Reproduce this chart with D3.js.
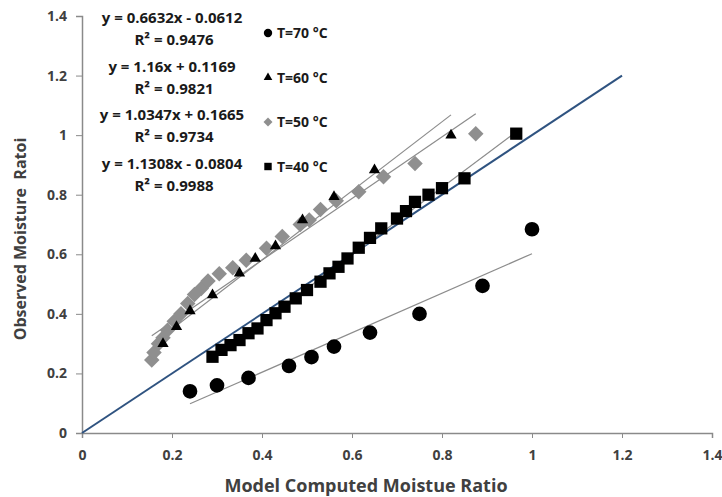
<!DOCTYPE html>
<html>
<head>
<meta charset="utf-8">
<script src="https://cdn.jsdelivr.net/npm/d3@7"></script>
<style>
  body { margin: 0; background: #fff; }
  text { font-family: "Open Sans", "DejaVu Sans", sans-serif; }
</style>
</head>
<body>
<div id="chart"></div>
<script>
// series data
const t70X = [0.24, 0.30, 0.37, 0.46, 0.51, 0.56, 0.64, 0.75, 0.89, 1.0];
const t70Y = [0.14, 0.16, 0.185, 0.225, 0.255, 0.29, 0.337, 0.40, 0.494, 0.684];

const t60X = [0.18, 0.21, 0.24, 0.29, 0.35, 0.385, 0.43, 0.49, 0.56, 0.65, 0.82];
const t60Y = [0.30, 0.357, 0.41, 0.463, 0.536, 0.586, 0.628, 0.715, 0.793, 0.883, 1.0];

const t50X = [0.155, 0.16, 0.17, 0.18, 0.19, 0.205, 0.22, 0.235, 0.25, 0.265, 0.28, 0.305,
  0.335, 0.365, 0.41, 0.445, 0.485, 0.505, 0.53, 0.565, 0.615, 0.67, 0.74, 0.875];
const t50Y = [0.245, 0.27, 0.30, 0.32, 0.345, 0.375, 0.40, 0.435, 0.465, 0.485, 0.51, 0.535,
  0.555, 0.58, 0.62, 0.66, 0.70, 0.715, 0.75, 0.78, 0.81, 0.86, 0.905, 1.005];

const t40X = [0.29, 0.31, 0.33, 0.35, 0.37, 0.39, 0.41, 0.43, 0.45, 0.475, 0.50, 0.53,
  0.55, 0.57, 0.59, 0.615, 0.64, 0.665, 0.70, 0.72, 0.74, 0.77, 0.80, 0.85, 0.965];
const t40Y = [0.256, 0.279, 0.295, 0.312, 0.335, 0.351, 0.379, 0.402, 0.424, 0.452, 0.48, 0.508,
  0.536, 0.558, 0.586, 0.622, 0.655, 0.687, 0.72, 0.745, 0.776, 0.80, 0.822, 0.855, 1.005];

const seriesNames = ["T=70 °C", "T=60 °C", "T=50 °C", "T=40 °C"];
const slopes = [0.6632, 1.16, 1.0347, 1.1308];
const intercepts = [-0.0612, 0.1169, 0.1665, -0.0804];
const equations = ["y = 0.6632x - 0.0612", "y = 1.16x + 0.1169", "y = 1.0347x + 0.1665", "y = 1.1308x - 0.0804"];
const rSquared = ["R² = 0.9476", "R² = 0.9821", "R² = 0.9734", "R² = 0.9988"];

const xTicks = [0, 0.2, 0.4, 0.6, 0.8, 1, 1.2, 1.4];
const yTicks = [0, 0.2, 0.4, 0.6, 0.8, 1, 1.2, 1.4];
const refLine = [0, 1.2];  // 1:1 line

const W = 722, H = 497;
const margin = { top: 16, right: 10, bottom: 64, left: 82 };
const width = W - margin.left - margin.right,
  height = H - margin.top - margin.bottom;

const svg = d3.select("#chart")
  .append("svg")
  .attr("width", W)
  .attr("height", H)
  .append("g")
  .attr("transform", `translate(${margin.left}, ${margin.top})`);

const x = d3.scaleLinear().domain([0, 1.4]).range([0, width]);
const y = d3.scaleLinear().domain([0, 1.4]).range([height, 0]);

const axisColor = "#8a8a8a";
const tickText = "#404040";

// excel style diamond: a square turned 45 degrees
const excelDiamond = {
  draw(ctx, size) {
    const r = Math.sqrt(size / 2);
    ctx.moveTo(0, -r);
    ctx.lineTo(r, 0);
    ctx.lineTo(0, r);
    ctx.lineTo(-r, 0);
    ctx.closePath();
  }
};

// axes
const fmt = d => d === 0 ? "0" : String(d);
const gx = svg.append("g")
  .attr("transform", `translate(0, ${height})`)
  .call(d3.axisBottom(x).tickValues(xTicks).tickFormat(fmt).tickSizeOuter(0).tickSize(5).tickPadding(12));
const gy = svg.append("g")
  .call(d3.axisLeft(y).tickValues(yTicks).tickFormat(fmt).tickSizeOuter(0).tickSize(6).tickPadding(9));
[gx, gy].forEach(g => {
  g.select(".domain").attr("stroke", axisColor).attr("stroke-width", 1.5);
  g.selectAll(".tick line").attr("stroke", axisColor);
  g.selectAll(".tick text")
    .attr("fill", tickText)
    .style("font-size", "14px")
    .style("font-weight", "bold")
    .style("font-family", "'Open Sans', sans-serif");
});

// axis titles
svg.append("text")
  .attr("x", 366 - margin.left)
  .attr("y", 492 - margin.top)
  .attr("text-anchor", "middle")
  .attr("fill", "#404040")
  .style("font-size", "18px")
  .style("font-weight", "bold")
  .text("Model Computed Moistue Ratio");

svg.append("text")
  .attr("transform", `translate(${26 - margin.left}, ${239 - margin.top}) rotate(-90)`)
  .attr("text-anchor", "middle")
  .attr("fill", "#404040")
  .style("font-size", "16px")
  .style("font-weight", "bold")
  .style("white-space", "pre")
  .text("Observed Moisture  Ratoi");

// 1:1 reference line
svg.append("line")
  .attr("x1", x(refLine[0])).attr("y1", y(refLine[0]))
  .attr("x2", x(refLine[1])).attr("y2", y(refLine[1]))
  .attr("stroke", "#2f5380")
  .attr("stroke-width", 2);

// series setup
const series = [
  { xs: t70X, ys: t70Y, symbol: d3.symbolCircle, size: 170, legSize: 55, fill: "#000" },
  { xs: t60X, ys: t60Y, symbol: d3.symbolTriangle, size: 55, legSize: 32, fill: "#000" },
  { xs: t50X, ys: t50Y, symbol: excelDiamond, size: 120, legSize: 40, fill: "#8f8f8f" },
  { xs: t40X, ys: t40Y, symbol: d3.symbolSquare, size: 150, legSize: 55, fill: "#000" }
];

// trendlines
series.forEach((s, i) => {
  const [x0, x1] = d3.extent(s.xs);
  svg.append("line")
    .attr("x1", x(x0)).attr("y1", y(slopes[i] * x0 + intercepts[i]))
    .attr("x2", x(x1)).attr("y2", y(slopes[i] * x1 + intercepts[i]))
    .attr("stroke", "#8c8c8c")
    .attr("stroke-width", 1.2);
});

// points (draw 40 first so the upper series sit on top like the picture)
[3, 2, 1, 0].forEach(i => {
  const s = series[i];
  const pts = s.xs.map((v, k) => [v, s.ys[k]]);
  svg.selectAll(null)
    .data(pts)
    .join("path")
    .attr("d", d3.symbol().type(s.symbol).size(s.size))
    .attr("transform", d => `translate(${x(d[0])}, ${y(d[1])})`)
    .attr("fill", s.fill);
});

// equation labels
const eqX = 172 - margin.left;
equations.forEach((eq, i) => {
  const top = 17 + i * 48.5;
  svg.append("text")
    .attr("x", eqX).attr("y", top - margin.top + 6)
    .attr("text-anchor", "middle")
    .attr("fill", "#1a1a1a")
    .style("font-size", "15px")
    .style("font-weight", "bold")
    .text(eq);
  svg.append("text")
    .attr("x", eqX + 2).attr("y", top + 22 - margin.top + 6)
    .attr("text-anchor", "middle")
    .attr("fill", "#1a1a1a")
    .style("font-size", "15px")
    .style("font-weight", "bold")
    .text(rSquared[i]);
});

// legend
const legend = svg.append("g")
  .attr("transform", `translate(${268 - margin.left}, ${33 - margin.top})`);
seriesNames.forEach((name, i) => {
  const s = series[i];
  const row = legend.append("g").attr("transform", `translate(0, ${i * 44.5})`);
  row.append("path")
    .attr("d", d3.symbol().type(s.symbol).size(s.legSize))
    .attr("fill", s.fill);
  row.append("text")
    .attr("x", 9).attr("y", 5)
    .attr("fill", "#1a1a1a")
    .style("font-size", "14px")
    .style("font-weight", "bold")
    .text(name);
});
</script>
</body>
</html>
